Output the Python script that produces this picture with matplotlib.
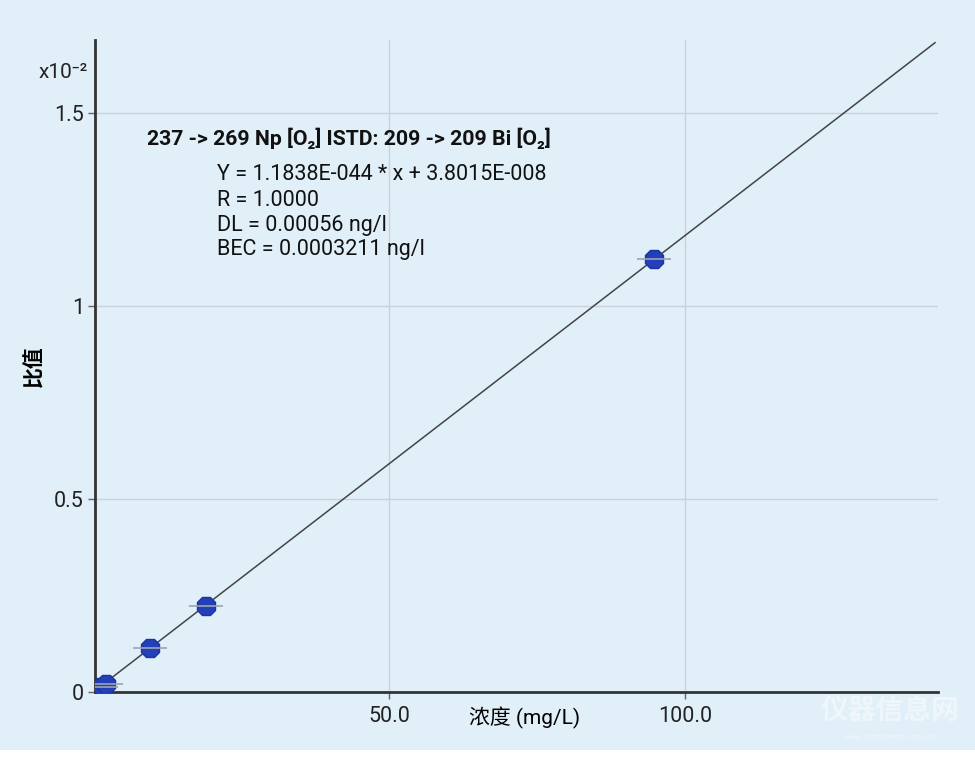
import matplotlib.pyplot as plt
from matplotlib.patches import Rectangle

# Calibration points (concentration, ratio x10^-2)
conc = [1.3, 2.2, 9.6, 19.1, 94.8]
ratio = [0.013, 0.022, 0.114, 0.224, 1.122]

# Fitted line end points
fit_x = [0.0, 142.2]
fit_y = [0.0, 1.683]

x_ticks = [50, 100]
x_tick_labels = ['50.0', '100.0']
y_ticks = [0, 0.5, 1, 1.5]
y_tick_labels = ['0', '0.5', '1', '1.5']

title_line = '237 -> 269 Np [O₂] ISTD: 209 -> 209 Bi [O₂]'
info_lines = ['Y = 1.1838E-044 * x + 3.8015E-008',
              'R = 1.0000',
              'DL = 0.00056 ng/l',
              'BEC = 0.0003211 ng/l']

bg = '#e1eff8'
fonts = ['Roboto', 'Noto Sans CJK SC', 'DejaVu Sans']
plt.rcParams['font.family'] = fonts

fig = plt.figure(figsize=(9.75, 7.58), dpi=100)
fig.patch.set_facecolor(bg)
# white strip at the very bottom
fig.patches.append(Rectangle((0, 0), 1, 8 / 758, transform=fig.transFigure,
                             facecolor='white', edgecolor='none', zorder=0))

ax = fig.add_axes([95 / 975, 66 / 758, 843 / 975, 652 / 758])
ax.set_facecolor(bg)
ax.set_xlim(0.3, 142.7)
ax.set_ylim(0, 1.69)

for s in ['top', 'right']:
    ax.spines[s].set_visible(False)
for s in ['left', 'bottom']:
    ax.spines[s].set_color('#333333')
    ax.spines[s].set_linewidth(2)

ax.set_xticks(x_ticks)
ax.set_xticklabels(x_tick_labels)
ax.set_yticks(y_ticks)
ax.set_yticklabels(y_tick_labels)
ax.tick_params(axis='both', labelsize=15.5, colors='#222222', length=5, width=1,
               color='#666666')
ax.tick_params(axis='x', pad=5)
ax.tick_params(axis='y', pad=3)
ax.grid(True, color='#c9d2da', linewidth=1)
ax.set_axisbelow(True)

# fitted line
ax.plot(fit_x, fit_y, color='#444444', linewidth=1.1, zorder=2)

# points with grey bars
ax.plot(conc, ratio, linestyle='none', marker='8', markersize=14,
        markerfacecolor='#2440b8', markeredgecolor='#1c34a0', zorder=3)
ax.plot(conc, ratio, linestyle='none', marker='_', markersize=24,
        markeredgecolor='#9aa4b4', markeredgewidth=1.2, zorder=4)

ax.set_xlabel('浓度 (mg/L)', fontsize=15, family=fonts)
ax.xaxis.set_label_coords(0.51, -0.022)
ax.xaxis.label.set_verticalalignment('top')
ax.set_ylabel('比值', fontsize=15, fontweight='bold', family=fonts)
ax.yaxis.set_label_coords(-0.06, 0.5)

fig.text(39 / 975, 1 - 73 / 758, 'x10⁻²', fontsize=15, va='center',
         family=fonts, color='#222222')

ax.text(147 / 975, 1 - 138 / 758, title_line, transform=fig.transFigure,
        fontsize=15.3, fontweight='bold', va='center', color='#111111')
for i, line in enumerate(info_lines):
    ax.text(217 / 975, 1 - (175 + 25 * i) / 758, line, transform=fig.transFigure,
            fontsize=15.5, va='center', color='#111111')

# faint watermark
fig.text(890 / 975, 1 - 712 / 758, '仪器信息网', fontsize=20, color='white',
         alpha=0.45, ha='center', va='center', family=fonts, fontweight='bold')
fig.text(890 / 975, 1 - 737 / 758, 'www.instrument.com.cn', fontsize=6,
         color='white', alpha=0.45, ha='center', va='center')

fig.savefig('out.png', dpi=100, facecolor=fig.get_facecolor())
